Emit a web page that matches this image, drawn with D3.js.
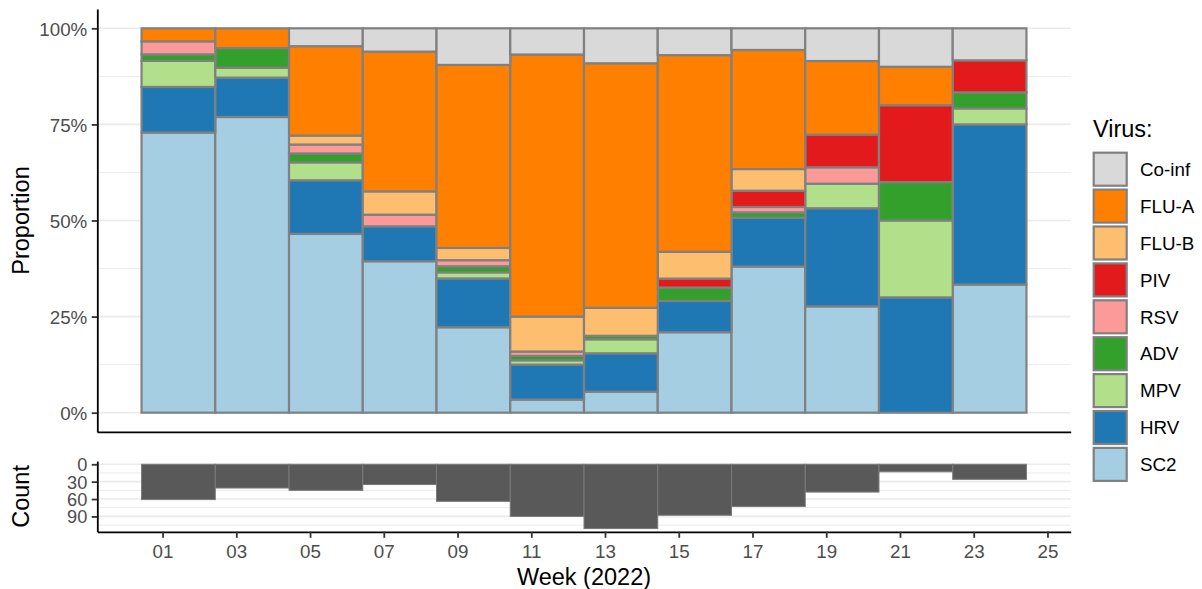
<!DOCTYPE html>
<html>
<head>
<meta charset="utf-8">
<script src="https://cdn.jsdelivr.net/npm/d3@7"></script>
<style>
  body { margin: 0; background: #fff; }
  svg { display: block; }
  text { font-family: "Liberation Sans", Arial, Helvetica, sans-serif; }
</style>
</head>
<body>
<svg id="chart" width="1202" height="589"></svg>
<script>
// Two-week bins, labelled by their first ISO week of 2022
const binWeeks = [1, 3, 5, 7, 9, 11, 13, 15, 17, 19, 21, 23];

// Positive detections per virus in each bin
const sc2   = [43, 30, 20, 13, 14,  3,  6, 18, 27, 13,  0,  8];
const hrv   = [ 7,  4,  6,  3,  8,  8, 11,  7,  9, 12,  3, 10];
const mpv   = [ 4,  1,  2,  0,  1,  1,  4,  0,  0,  3,  2,  1];
const adv   = [ 1,  2,  1,  0,  1,  1,  1,  3,  1,  0,  1,  1];
const rsv   = [ 2,  0,  1,  1,  1,  1,  0,  0,  1,  2,  0,  0];
const piv   = [ 0,  0,  0,  0,  0,  0,  0,  2,  3,  4,  2,  2];
const flub  = [ 0,  0,  1,  2,  2,  8,  8,  6,  4,  0,  0,  0];
const flua  = [ 2,  2, 10, 12, 30, 60, 70, 44, 22,  9,  1,  0];
const coinf = [ 0,  0,  2,  2,  6,  6, 10,  6,  4,  4,  1,  2];

// Samples per bin (lower panel)
const sampleCounts = [61, 41, 45, 35, 64, 90, 111, 88, 73, 48, 13, 26];

// Axis ticks
const weekTicks = [1, 3, 5, 7, 9, 11, 13, 15, 17, 19, 21, 23, 25];
const proportionTicks = [0, 0.25, 0.5, 0.75, 1];
const proportionMinor = [0.125, 0.375, 0.625, 0.875];
const countTicks = [0, 30, 60, 90];
const countMinor = [15, 45, 75, 105];

// Stack order, bottom to top, with the Paired palette
const virusNames  = ["SC2", "HRV", "MPV", "ADV", "RSV", "PIV", "FLU-B", "FLU-A", "Co-inf"];
const virusSeries = [sc2, hrv, mpv, adv, rsv, piv, flub, flua, coinf];
const virusColors = ["#a6cee3", "#1f78b4", "#b2df8a", "#33a02c", "#fb9a99",
                     "#e31a1c", "#fdbf6f", "#ff7f00", "#d9d9d9"];

// ---- table for the stack: share of each virus per bin ----
const BIN_SHIFT = -0.57, BIN_WIDTH = 2;
const rows = binWeeks.map((w, i) => {
  const total = d3.sum(virusSeries, s => s[i]);
  const row = { week: w, x0: w + BIN_SHIFT, x1: w + BIN_SHIFT + BIN_WIDTH };
  virusNames.forEach((name, k) => { row[name] = virusSeries[k][i] / total; });
  return row;
});
const stacked = d3.stack().keys(virusNames)(rows);
const color = d3.scaleOrdinal().domain(virusNames).range(virusColors);

// ---- layout ----
const svg = d3.select("#chart");
const left = 97.3, right = 1070.7;
const top1 = 9.1, bottom1 = 431.9;
const top2 = 461.05, bottom2 = 531.8;

const xMin = rows[0].x0, xMax = rows[rows.length - 1].x1;
const xPad = (xMax - xMin) * 0.05;
const x = d3.scaleLinear().domain([xMin - xPad, xMax + xPad]).range([left, right]);

const yProp = d3.scaleLinear().domain([-0.05, 1.05]).range([bottom1, top1]);
const maxCount = d3.max(sampleCounts);
const yCount = d3.scaleLinear().domain([-0.05 * maxCount, 1.05 * maxCount]).range([top2, bottom2]);

const GRID = "#ebebeb", OUTLINE = "#808080", TICKTXT = "#4d4d4d";

// ---- grid lines ----
function hGrid(values, scale, width) {
  svg.append("g").selectAll("line").data(values).join("line")
    .attr("x1", left).attr("x2", right)
    .attr("y1", d => scale(d)).attr("y2", d => scale(d))
    .attr("stroke", GRID).attr("stroke-width", width);
}
hGrid(proportionMinor, yProp, 1);
hGrid(proportionTicks, yProp, 1.6);
hGrid(countMinor, yCount, 1);
hGrid(countTicks, yCount, 1.6);

// ---- stacked proportion bars ----
svg.append("g").selectAll("g").data(stacked).join("g")
  .attr("fill", d => color(d.key))
  .selectAll("rect")
  .data(d => d.filter(seg => seg[1] - seg[0] > 0))
  .join("rect")
  .attr("x", d => x(d.data.x0))
  .attr("width", d => x(d.data.x1) - x(d.data.x0))
  .attr("y", d => yProp(d[1]))
  .attr("height", d => yProp(d[0]) - yProp(d[1]))
  .attr("stroke", OUTLINE)
  .attr("stroke-width", 2.2);

// ---- sample count bars (hanging down from zero) ----
svg.append("g").selectAll("rect").data(rows).join("rect")
  .attr("x", d => x(d.x0))
  .attr("width", d => x(d.x1) - x(d.x0))
  .attr("y", yCount(0))
  .attr("height", (d, i) => yCount(sampleCounts[i]) - yCount(0))
  .attr("fill", "#595959")
  .attr("stroke", "#7a7a7a")
  .attr("stroke-width", 1);

// ---- axes ----
function styleAxis(g) {
  g.select(".domain").attr("stroke", "#000").attr("stroke-width", 1.8);
  g.selectAll(".tick line").attr("stroke", "#333").attr("stroke-width", 1.8);
  g.selectAll(".tick text").attr("fill", TICKTXT).attr("font-size", 18.8)
    .attr("font-family", "'Liberation Sans', Arial, sans-serif");
}

svg.append("g").attr("transform", `translate(${left},0)`)
  .call(d3.axisLeft(yProp).tickValues(proportionTicks)
    .tickFormat(d3.format(".0%")).tickSize(5.6).tickSizeOuter(0).tickPadding(4.4))
  .call(styleAxis)
  .call(g => g.selectAll(".tick text").attr("dy", "0.36em"));

svg.append("g").attr("transform", `translate(0,${bottom1})`)
  .call(d3.axisBottom(x).tickValues([]).tickSizeOuter(0))
  .call(styleAxis);

// count labels sit very close together, so they use a tighter line box
svg.append("g").attr("transform", `translate(${left},0)`)
  .call(d3.axisLeft(yCount).tickValues(countTicks)
    .tickSize(5.6).tickSizeOuter(0).tickPadding(4.4))
  .call(styleAxis)
  .call(g => g.selectAll(".tick text").attr("dy", "0.36em").attr("font-size", 18.2));

svg.append("g").attr("transform", `translate(0,${bottom2})`)
  .call(d3.axisBottom(x).tickValues(weekTicks)
    .tickFormat(d => String(d).padStart(2, "0")).tickSize(6).tickSizeOuter(0))
  .call(styleAxis)
  .call(g => g.selectAll(".tick text").attr("y", 26.5).attr("dy", 0));

// ---- axis titles ----
svg.append("text")
  .attr("x", (left + right) / 2).attr("y", 584.5)
  .attr("text-anchor", "middle").attr("font-size", 23.5).attr("fill", "#000")
  .text("Week (2022)");

svg.append("text")
  .attr("transform", `translate(28.5,${(top1 + bottom1) / 2}) rotate(-90)`)
  .attr("text-anchor", "middle").attr("font-size", 23.5).attr("fill", "#000")
  .text("Proportion");

svg.append("text")
  .attr("transform", `translate(28.5,${(top2 + bottom2) / 2}) rotate(-90)`)
  .attr("text-anchor", "middle").attr("font-size", 23.5).attr("fill", "#000")
  .text("Count");

// ---- legend ----
const legend = svg.append("g").attr("transform", "translate(1093,0)");
legend.append("text")
  .attr("x", 0).attr("y", 137.3)
  .attr("font-size", 23.5).attr("fill", "#000")
  .text("Virus:");

const legendOrder = virusNames.slice().reverse();
const keyTop = 152.7, keyStep = 36.9, keySize = 33;
const item = legend.selectAll("g.key").data(legendOrder).join("g")
  .attr("class", "key")
  .attr("transform", (d, i) => `translate(0,${keyTop + i * keyStep})`);
item.append("rect")
  .attr("x", 0.7).attr("y", 0)
  .attr("width", keySize).attr("height", keySize)
  .attr("fill", d => color(d))
  .attr("stroke", OUTLINE).attr("stroke-width", 2.2);
item.append("text")
  .attr("x", 47).attr("y", keySize / 2).attr("dy", "0.36em")
  .attr("font-size", 18.8).attr("fill", "#000")
  .text(d => d);
</script>
</body>
</html>
